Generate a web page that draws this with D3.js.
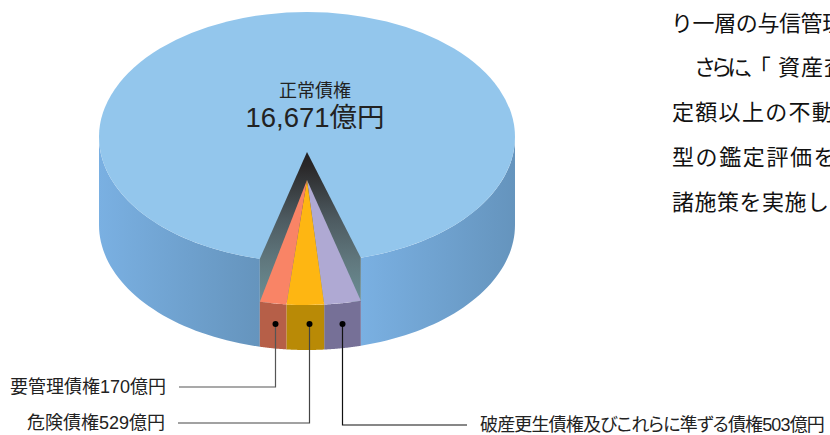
<!DOCTYPE html>
<html lang="ja">
<head>
<meta charset="utf-8">
<style>
  html, body { margin: 0; padding: 0; background: #fff; overflow: hidden; }
  svg { display: block; }
  text { font-family: "Liberation Sans", "Noto Sans CJK JP", sans-serif; fill: #222; }
  .body-text { font-size: 22px; font-family: "Noto Sans CJK JP", sans-serif; fill: #111; }
  .leader-text { font-size: 18px; font-feature-settings: "palt"; }
</style>
<script src="https://cdn.jsdelivr.net/npm/d3@7"></script>
</head>
<body>
<svg id="chart" width="830" height="435"></svg>
<script>
// Loan classification amounts, in 億円
const normalName = "正常債権";
const normalValue = 16671;
const categories = ["要管理債権", "危険債権", "破産更生債権及びこれらに準ずる債権"];
const values = [170, 529, 503];
const bodyLines = ["り一層の与信管理", "さらに、「", "資産査", "定額以上の不動", "型の鑑定評価を", "諸施策を実施して"];

// Pie geometry
const cx = 307, topY = 137, floorY = 225, liftedY = 180;
const rx = 208, ry = 125, notchY = 152;
const rad = d => d * Math.PI / 180;
const spanStart = rad(180 - 15), spanEnd = rad(180 + 13.1);

const svg = d3.select("#chart");
const defs = svg.append("defs");

function linearGradient(id, dir, stops) {
  const g = defs.append("linearGradient").attr("id", id)
    .attr("gradientUnits", "userSpaceOnUse")
    .attr("x1", dir[0]).attr("y1", dir[1]).attr("x2", dir[2]).attr("y2", dir[3]);
  stops.forEach(s => g.append("stop").attr("offset", s[0]).attr("stop-color", s[1]));
}
linearGradient("sideLeft", [99, 0, 260, 0], [[0, "#7ab0e2"], [1, "#6594bd"]]);
linearGradient("sideRight", [361, 0, 515, 0], [[0, "#7ab0e2"], [1, "#6594bd"]]);
linearGradient("notch", [0, 152, 0, 300], [[0, "#231f20"], [0.1, "#2a2829"], [0.45, "#4d5a60"], [0.75, "#61797f"], [1, "#6a8d93"]]);

// The three smaller classes are widened with a power scale so each stays legible
const widen = d3.scalePow().exponent(0.3).domain([0, d3.max(values)]).range([0, 1]);
const pie = d3.pie().sort(null).value(i => widen(values[i])).startAngle(spanStart).endAngle(spanEnd);
const slices = pie([2, 1, 0]);
const fills = { 0: "#f98466", 1: "#feb612", 2: "#afa9d3" };
const fronts = { 0: "#b65f48", 1: "#b98a06", 2: "#767097" };

// Projects a pie angle (clockwise from the back) onto a tilted plane
const px = a => cx + rx * Math.sin(a);
const py = (a, base) => base - ry * Math.cos(a);
const rim = (a0, a1, base) => d3.range(0, 41).map(i => {
  const a = a0 + (a1 - a0) * i / 40;
  return [px(a), py(a, base)];
});
const band = (a0, a1, upper, lower) => d3.line()([...rim(a0, a1, upper), ...rim(a1, a0, lower)]) + "Z";

// Body of the disc on both sides of the pulled-out wedge
svg.append("path").attr("d", band(rad(90), spanStart, topY, floorY)).attr("fill", "url(#sideRight)");
svg.append("path").attr("d", band(spanEnd, rad(270), topY, floorY)).attr("fill", "url(#sideLeft)");

// Top face
svg.append("ellipse").attr("cx", cx).attr("cy", topY).attr("rx", rx).attr("ry", ry).attr("fill", "#93c6ec");

// Dark recess left behind by the wedge
const notchPath = d3.line()([
  [cx, notchY],
  [px(spanStart), py(spanStart, topY)],
  [px(spanStart), py(spanStart, liftedY) + 1],
  [px(spanEnd), py(spanEnd, liftedY) + 1],
  [px(spanEnd), py(spanEnd, topY)]
]) + "Z";
svg.append("path").attr("d", notchPath).attr("fill", "url(#notch)");

// Wedge front faces, then its top faces
const wedge = svg.append("g");
wedge.selectAll("path.front").data(slices).join("path").attr("class", "front")
  .attr("d", d => band(d.startAngle, d.endAngle, liftedY, floorY))
  .attr("fill", d => fronts[d.data]);

const arc = d3.arc().innerRadius(0).outerRadius(rx);
wedge.append("g").attr("transform", `translate(${cx},${liftedY}) scale(1,${ry / rx})`)
  .selectAll("path").data(slices).join("path")
  .attr("d", arc)
  .attr("fill", d => fills[d.data]);

// Label of the main segment
svg.append("text").attr("x", 315).attr("y", 97).attr("text-anchor", "middle")
  .attr("font-size", 18).text(normalName);
svg.append("text").attr("x", 315).attr("y", 127).attr("text-anchor", "middle")
  .attr("font-size", 27.5).text(d3.format(",")(normalValue) + "億円");

// Leader lines: from a dot on each front face to its label
const dotY = 324;
const leaders = [
  { idx: 0, y: 387, dx: 2, endX: 179, textX: 166, base: 393, anchor: "end", stroke: "#555", spacing: 0 },
  { idx: 1, y: 423, dx: 4, endX: 178, textX: 165, base: 429, anchor: "end", stroke: "#444", spacing: 0 },
  { idx: 2, y: 425, dx: -1, endX: 467, textX: 480, base: 431, anchor: "start", stroke: "#111", spacing: -0.85 }
];
leaders.forEach(l => {
  const s = slices.find(d => d.data === l.idx);
  const x = Math.round(px((s.startAngle + s.endAngle) / 2)) + l.dx + 0.5;
  svg.append("path").attr("fill", "none").attr("stroke", l.stroke).attr("stroke-width", 1.2)
    .attr("d", d3.line()([[x, dotY], [x, l.y], [l.endX, l.y]]));
  svg.append("circle").attr("cx", x).attr("cy", dotY).attr("r", 3).attr("fill", "#000");
  svg.append("text").attr("class", "leader-text").attr("x", l.textX).attr("y", l.base)
    .attr("text-anchor", l.anchor).attr("letter-spacing", l.spacing)
    .text(categories[l.idx] + values[l.idx] + "億円");
});

// Running text beside the chart; it continues past the page edge
const linePlacement = [
  { x: 671, y: 31, spacing: -0.4 },
  { x: 694, y: 75, spacing: -5.4 },
  { x: 778, y: 75, spacing: 1 },
  { x: 672, y: 120, spacing: 1.3 },
  { x: 672, y: 165, spacing: 1.6 },
  { x: 672, y: 210, spacing: 0.5 }
];
bodyLines.forEach((t, i) => {
  const p = linePlacement[i];
  svg.append("text").attr("class", "body-text")
    .attr("x", p.x).attr("y", p.y).attr("letter-spacing", p.spacing).text(t);
});
</script>
</body>
</html>
